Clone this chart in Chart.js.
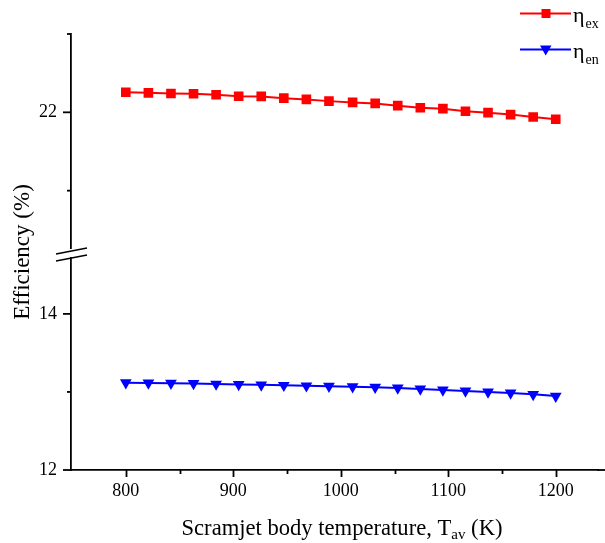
<!DOCTYPE html>
<html>
<head>
<meta charset="utf-8">
<script src="https://cdn.jsdelivr.net/npm/chart.js@4.4.0/dist/chart.umd.min.js"></script>
<style>
html,body{margin:0;padding:0;background:#fff;}
#wrap{width:605px;height:543px;position:relative;}
</style>
</head>
<body>
<div id="wrap"><canvas id="c" width="605" height="543"></canvas></div>
<script>
// ---- data ----
const temps = [800, 821, 842, 863, 884, 905, 926, 947, 968, 989, 1011, 1032, 1053, 1074, 1095, 1116, 1137, 1158, 1179, 1200];
const exergyEff = [22.257, 22.249, 22.241, 22.237, 22.224, 22.206, 22.203, 22.181, 22.165, 22.143, 22.127, 22.114, 22.085, 22.059, 22.047, 22.013, 21.996, 21.971, 21.941, 21.911];
const energyEff = [13.119, 13.115, 13.112, 13.108, 13.101, 13.096, 13.091, 13.085, 13.079, 13.074, 13.068, 13.060, 13.051, 13.038, 13.026, 13.013, 13.000, 12.987, 12.969, 12.947];
const xMajor = [800, 900, 1000, 1100, 1200];
const xMinor = [850, 950, 1050, 1150];
const yTopMajor = [22];
const yTopMinor = [21, 23];
const yBotMajor = [12, 14];
const yBotMinor = [13];
const seriesNames = ['ex', 'en'];

const FONT = "'Liberation Serif', 'Times New Roman', serif";
const RED = '#ff0000', BLUE = '#0000ff';

function pts(xs, ys){ return xs.map((x,i)=>({x:x, y:ys[i]})); }
function noPad(s){ s.paddingLeft = 0; s.paddingRight = 0; s.paddingTop = 0; s.paddingBottom = 0; }

const decor = {
  id:'decor',
  afterDraw(chart){
    const ctx = chart.ctx;
    const sx = chart.scales.x, st = chart.scales.yTop, sb = chart.scales.yBot;
    const ax = sx.left, ay = sx.top;
    ctx.save();
    ctx.strokeStyle = '#000';
    ctx.lineWidth = 1.8;
    const tick = (x1,y1,x2,y2)=>{ctx.beginPath();ctx.moveTo(x1,y1);ctx.lineTo(x2,y2);ctx.stroke();};
    // extend x axis line to the canvas edge
    tick(sx.right - 1, ay, chart.width, ay);
    xMajor.forEach(v=>{const p=Math.round(sx.getPixelForValue(v))+0.5; tick(p,ay,p,ay+7);});
    xMinor.forEach(v=>{const p=Math.round(sx.getPixelForValue(v))+0.5; tick(p,ay,p,ay+4);});
    yTopMajor.forEach(v=>{const p=st.getPixelForValue(v); tick(ax-8,p,ax,p);});
    yTopMinor.forEach(v=>{const p=st.getPixelForValue(v); tick(ax-4,p,ax,p);});
    yBotMajor.forEach(v=>{const p=sb.getPixelForValue(v); tick(ax-8,p,ax,p);});
    yBotMinor.forEach(v=>{const p=sb.getPixelForValue(v); tick(ax-4,p,ax,p);});
    // axis break
    const by = st.bottom;
    ctx.fillStyle = '#fff';
    ctx.fillRect(ax-3, by-4, 6, 8);
    ctx.lineWidth = 1.5;
    tick(ax-15, by+1, ax+16, by-5);
    tick(ax-15, by+8, ax+16, by+2);
    // titles
    ctx.fillStyle = '#000';
    ctx.save();
    ctx.translate(23, 252);
    ctx.rotate(-Math.PI/2);
    ctx.font = '23px ' + FONT;
    ctx.textAlign = 'center';
    ctx.textBaseline = 'middle';
    ctx.fillText('Efficiency (%)', 0, 0);
    ctx.restore();
    // x title with subscript
    const p1 = 'Scramjet body temperature, T', p2 = 'av', p3 = ' (K)';
    ctx.textBaseline = 'alphabetic';
    ctx.textAlign = 'left';
    ctx.font = '22.6px ' + FONT; const w1 = ctx.measureText(p1).width, w3 = ctx.measureText(p3).width;
    ctx.font = '15px ' + FONT; const w2 = ctx.measureText(p2).width;
    let x0 = 342 - (w1+w2+w3)/2;
    ctx.font = '22.6px ' + FONT; ctx.fillText(p1, x0, 535);
    ctx.font = '15px ' + FONT; ctx.fillText(p2, x0+w1, 539);
    ctx.font = '22.6px ' + FONT; ctx.fillText(p3, x0+w1+w2, 535);
    // legend
    const items = [{c:RED, y:13.5, m:'rect'}, {c:BLUE, y:49.5, m:'tri'}];
    items.forEach((it,i)=>{
      ctx.strokeStyle = it.c; ctx.fillStyle = it.c; ctx.lineWidth = 2;
      tick(520, it.y, 571, it.y);
      if (it.m==='rect'){ ctx.fillRect(541.5, it.y-4.5, 9, 9); }
      else { ctx.beginPath(); ctx.moveTo(540, it.y-4); ctx.lineTo(551.5, it.y-4); ctx.lineTo(545.7, it.y+6); ctx.closePath(); ctx.fill(); }
      ctx.fillStyle = '#000';
      ctx.font = '22px ' + FONT;
      ctx.fillText('\u03b7', 573, it.y+8);
      const we = ctx.measureText('\u03b7').width;
      ctx.font = '14px ' + FONT;
      ctx.fillText(seriesNames[i], 573+we+1, it.y+14);
    });
    ctx.restore();
  }
};

const yCommon = {
  type:'linear', position:'left', stack:'y',
  grid:{display:true, drawOnChartArea:false, drawTicks:false},
  border:{display:true, color:'#000', width:1.8},
  ticks:{color:'#000', font:{family:FONT, size:18}, padding:14, autoSkip:false, callback:v=>String(v)},
  afterFit:s=>{s.width=71; noPad(s);}
};

new Chart(document.getElementById('c'), {
  type:'line',
  data:{datasets:[
    {label:'ηex', data:pts(temps, exergyEff), yAxisID:'yTop', xAxisID:'x', borderColor:RED, backgroundColor:RED, borderWidth:2, pointStyle:'rect', pointRadius:6.8, pointBorderWidth:0, tension:0},
    {label:'ηen', data:pts(temps, energyEff), yAxisID:'yBot', xAxisID:'x', borderColor:BLUE, backgroundColor:BLUE, borderWidth:2, pointStyle:'triangle', pointRotation:180, pointRadius:6.8, pointBorderWidth:0, tension:0}
  ]},
  options:{
    responsive:false, animation:false, devicePixelRatio:1,
    layout:{padding:{top:34, right:0, left:0, bottom:0}},
    plugins:{legend:{display:false}, tooltip:{enabled:false}},
    scales:{
      x:{type:'linear', min:749, max:1239.5,
        grid:{display:true, drawOnChartArea:false, drawTicks:false},
        border:{display:true, color:'#000', width:1.8},
        ticks:{color:'#000', font:{family:FONT, size:18}, padding:10, autoSkip:false, maxRotation:0, callback:v=>String(v)},
        afterBuildTicks:s=>{s.ticks = xMajor.map(v=>({value:v}));},
        afterFit:s=>{s.height=73; noPad(s);}
      },
      yBot:Object.assign({}, yCommon, {stackWeight:217, min:12, max:14.78,
        afterBuildTicks:s=>{s.ticks = yBotMajor.map(v=>({value:v}));}}),
      yTop:Object.assign({}, yCommon, {stackWeight:219, min:20.204, max:23,
        afterBuildTicks:s=>{s.ticks = yTopMajor.map(v=>({value:v}));}})
    }
  },
  plugins:[decor]
});
</script>
</body>
</html>
